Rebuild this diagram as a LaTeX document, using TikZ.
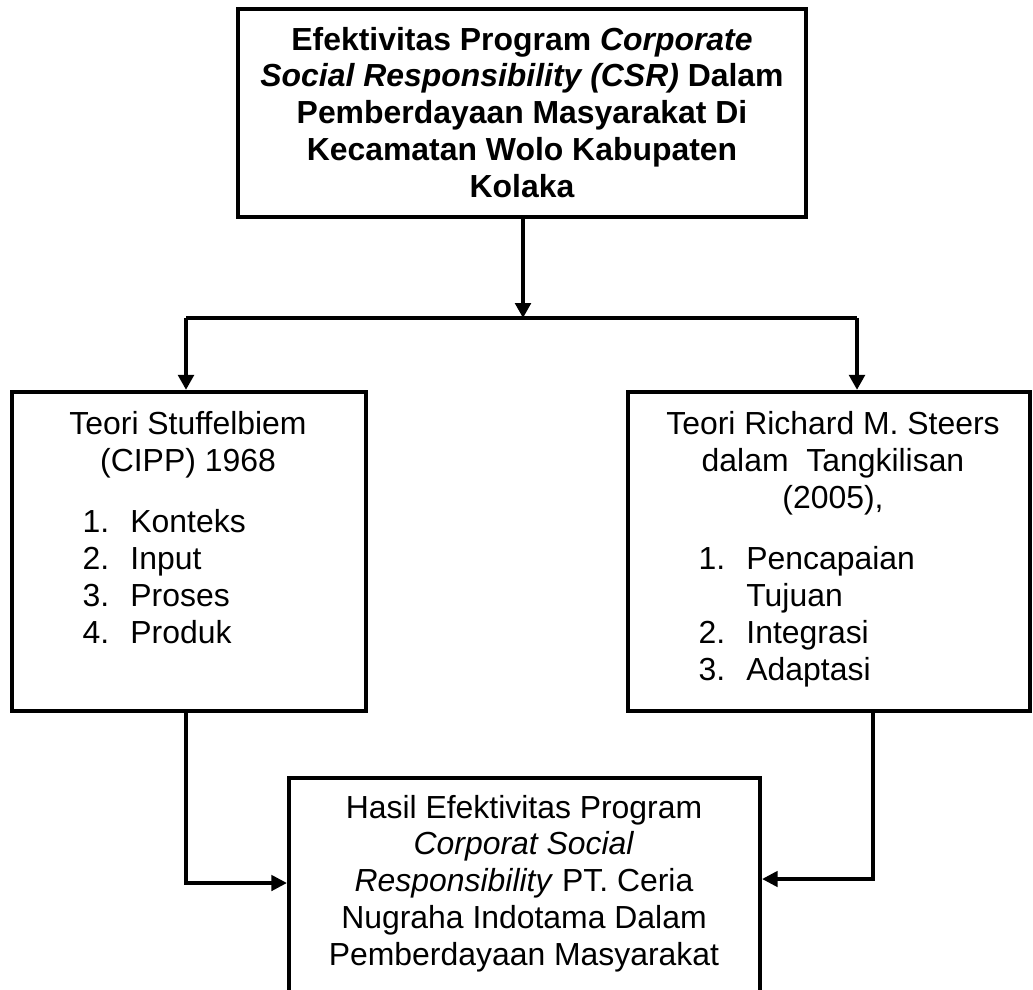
\documentclass[tikz,border=0pt]{standalone}
\usepackage{fontspec}
\setmainfont{Liberation Sans}
\usepackage{tikz}
\usetikzlibrary{
    arrows.meta,
    positioning,
    calc
}
\newcommand\pxu{0.376pt}
\newcommand\nomor[1]{\makebox[18pt][l]{#1}}
\tikzset{%
   kotak/.style={
      draw,
      rectangle,
      line width=1.6pt,
      inner sep=0pt
   },
   teks/.style={
      align=center,
      inner sep=0pt,
      font=\fontsize{12}{13.8}\selectfont
   },
   tebal/.style={
      teks,
      font=\fontsize{12}{13.8}\selectfont\bfseries
   },
   daftar/.style={
      align=left,
      inner sep=0pt,
      font=\fontsize{12}{13.8}\selectfont
   },
   garis/.style={
      line width=1.5pt
   },
   panah/.style={
      garis,
      -{Triangle[length=5.6pt,width=5.8pt]}
   },
   panahtipis/.style={
      line width=1.2pt,
      -{Triangle[length=5.8pt,width=5.8pt]}
   },
}

\begin{document}
\begin{tikzpicture}[x=\pxu, y=-\pxu]
      \useasboundingbox (0,0) rectangle (1033,989);
      \clip (0,0) rectangle (1033,989);
      \node[kotak, minimum width=568*\pxu, minimum height=208*\pxu] (judul) at (522,113) {};
      \node[kotak, minimum width=354*\pxu, minimum height=319*\pxu] (kiri) at (189,551.5) {};
      \node[kotak, minimum width=402*\pxu, minimum height=319*\pxu] (kanan) at (829,551.5) {};
      \node[kotak, minimum width=471*\pxu, minimum height=242*\pxu] (hasil) at (524.5,899) {};
      \node[tebal, anchor=base] (judulteks) at (522,197)
         {Efektivitas Program \textit{Corporate}\\
          \textit{Social Responsibility (CSR)} Dalam\\
          Pemberdayaan Masyarakat Di\\
          Kecamatan Wolo Kabupaten\\
          Kolaka};
      \node[teks, anchor=base] (teorikiri) at (188,471)
         {Teori Stuffelbiem\\(CIPP) 1968};
      \node[daftar, anchor=base west] (daftarkiri) at (82,643)
         {\nomor{1.}Konteks\\\nomor{2.}Input\\\nomor{3.}Proses\\\nomor{4.}Produk};
      \node[teks, anchor=base] (teorikanan) at (833,508)
         {Teori Richard M. Steers\\dalam\ \ Tangkilisan\\(2005),};
      \node[daftar, anchor=base west] (daftarkanan) at (698,680)
         {\nomor{1.}Pencapaian\\\nomor{}Tujuan\\\nomor{2.}Integrasi\\\nomor{3.}Adaptasi};
      \node[teks, anchor=base] (hasilteks) at (524,965)
         {Hasil Efektivitas Program\\
          \textit{Corporat Social}\\
          \textit{Responsibility} PT. Ceria\\
          Nugraha Indotama Dalam\\
          Pemberdayaan Masyarakat};
      \coordinate (simpang) at (523,318);
      \coordinate (simpangkiri) at (186,318);
      \coordinate (simpangkanan) at (857,318);
      \coordinate (belokkiri) at (186,883);
      \coordinate (belokkanan) at (873,879);
      \draw[panah] (judul.south -| simpang) -- (simpang);
      \draw[garis] (simpangkiri) -- (simpangkanan);
      \draw[panah] (simpangkiri) -- (simpangkiri |- kiri.north);
      \draw[panah] (simpangkanan) -- (simpangkanan |- kanan.north);
      \draw[panahtipis] (kiri.south -| belokkiri) -- (belokkiri) -- (belokkiri -| hasil.west);
      \draw[panahtipis] (kanan.south -| belokkanan) -- (belokkanan) -- (belokkanan -| hasil.east);
   \end{tikzpicture}
\end{document}
